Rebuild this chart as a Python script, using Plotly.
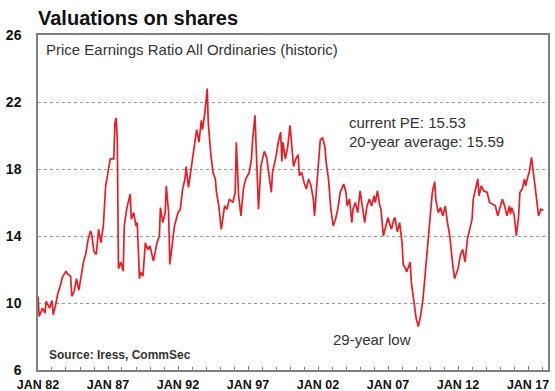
import plotly.graph_objects as go

# Monthly observations of the All Ordinaries historic price-earnings ratio
dates = [
    "1982-01", "1982-02", "1982-05", "1982-07", "1982-08", "1982-11",
    "1983-01", "1983-02", "1983-04", "1983-06", "1983-08", "1983-10",
    "1984-01", "1984-02", "1984-05", "1984-06", "1984-08", "1984-10", "1984-12",
    "1985-02", "1985-04", "1985-06", "1985-08", "1985-10", "1985-11",
    "1986-01", "1986-03", "1986-05", "1986-07", "1986-09", "1986-11",
    "1987-01", "1987-03", "1987-06", "1987-07", "1987-08", "1987-09", "1987-10", "1987-12",
    "1988-02", "1988-03", "1988-05", "1988-08", "1988-09", "1988-11",
    "1989-01", "1989-02", "1989-04", "1989-05", "1989-07", "1989-09", "1989-11",
    "1990-01", "1990-04", "1990-07", "1990-09", "1990-10", "1990-12",
    "1991-02", "1991-03", "1991-05", "1991-06", "1991-08", "1991-10",
    "1992-01", "1992-03", "1992-05", "1992-07", "1992-08", "1992-10",
    "1993-01", "1993-03", "1993-05", "1993-07", "1993-09", "1993-10", "1993-12",
    "1994-02", "1994-03", "1994-05", "1994-07", "1994-09", "1994-10", "1994-12",
    "1995-02", "1995-03", "1995-05", "1995-07", "1995-09", "1995-12",
    "1996-02", "1996-03", "1996-05", "1996-07", "1996-09", "1996-11",
    "1997-02", "1997-04", "1997-05", "1997-07", "1997-08", "1997-10", "1997-12",
    "1998-02", "1998-03", "1998-05", "1998-07", "1998-09", "1998-10",
    "1999-01", "1999-03", "1999-05", "1999-06", "1999-07", "1999-09", "1999-11",
    "2000-01", "2000-02", "2000-04", "2000-06", "2000-08", "2000-09", "2000-11",
    "2001-01", "2001-03", "2001-05", "2001-07", "2001-09", "2001-10",
    "2002-01", "2002-03", "2002-05", "2002-07", "2002-08", "2002-10", "2002-12",
    "2003-02", "2003-04", "2003-06", "2003-08", "2003-11",
    "2004-01", "2004-02", "2004-04", "2004-06", "2004-07", "2004-09", "2004-11",
    "2005-01", "2005-03", "2005-05", "2005-07", "2005-09", "2005-11",
    "2006-01", "2006-02", "2006-04", "2006-06", "2006-07", "2006-09", "2006-11",
    "2007-01", "2007-02", "2007-04", "2007-06", "2007-07", "2007-09", "2007-11",
    "2008-01", "2008-02", "2008-04", "2008-05", "2008-08", "2008-09", "2008-11",
    "2009-01", "2009-03", "2009-05", "2009-07", "2009-09", "2009-11",
    "2010-01", "2010-03", "2010-05", "2010-06", "2010-08", "2010-10", "2010-12",
    "2011-02", "2011-04", "2011-06", "2011-08", "2011-10",
    "2012-01", "2012-03", "2012-05", "2012-07", "2012-09", "2012-11",
    "2013-01", "2013-02", "2013-04", "2013-06", "2013-07", "2013-09", "2013-11",
    "2014-02", "2014-04", "2014-07", "2014-09", "2014-11",
    "2015-01", "2015-03", "2015-05", "2015-07", "2015-09", "2015-10", "2015-11",
    "2016-01", "2016-03", "2016-05", "2016-06", "2016-08", "2016-10", "2016-11",
    "2017-01", "2017-02", "2017-04", "2017-05", "2017-07", "2017-09", "2017-10", "2017-12",
    "2018-02",
]

pe_ratio = [
    10.4, 9.2, 9.7, 9.4, 10.1, 9.7,
    10.15, 9.3, 9.85, 10.55, 11.0, 11.55,
    11.9, 11.75, 11.6, 10.4, 10.7, 11.45, 10.75,
    11.6, 12.45, 12.95, 13.8, 14.3, 14.1,
    13.05, 12.9, 14.4, 13.6, 14.6, 17.0,
    17.8, 18.6, 18.6, 20.75, 21.05, 19.75, 12.05, 12.45,
    11.9, 14.6, 15.6, 16.5, 15.0, 15.4,
    14.6, 14.8, 11.45, 11.85, 11.6, 13.6, 13.2,
    13.4, 12.5, 13.6, 14.0, 15.7, 14.8,
    15.4, 17.0, 15.4, 12.3, 13.6, 14.6,
    15.4, 15.6, 16.8, 17.4, 18.15, 16.9,
    18.4, 19.3, 20.35, 19.6, 20.9, 20.35, 21.35,
    22.8, 20.75, 19.0, 17.8, 17.4, 16.6, 15.8,
    14.4, 14.8, 15.8, 15.6, 16.2, 16.0,
    16.6, 19.6, 16.4, 15.2, 16.8, 17.4,
    17.8, 18.6, 19.75, 21.2, 19.3, 15.6, 18.15,
    18.75, 19.05, 18.7, 17.6, 16.6, 17.8,
    18.75, 19.6, 20.2, 18.45, 19.6, 18.6, 19.3,
    20.6, 19.75, 18.15, 18.6, 18.85, 17.6, 17.8,
    17.2, 16.8, 17.4, 17.0, 16.2, 15.2,
    18.0, 19.75, 19.85, 19.3, 18.4, 17.4, 15.6,
    14.6, 15.0, 15.6, 16.6, 17.1,
    16.6, 15.8, 16.2, 14.8, 15.6, 16.0, 15.4,
    16.7, 15.8, 14.8, 15.8, 16.2, 15.8,
    16.4, 16.0, 16.7, 15.8, 15.6, 14.0, 14.6,
    15.1, 14.8, 14.4, 15.0, 15.1, 14.25, 14.8,
    13.6, 12.3, 12.05, 11.85, 12.45, 11.2, 10.2,
    9.1, 8.6, 9.25, 10.25, 11.85, 13.6,
    15.0, 16.6, 17.25, 16.2, 15.4, 15.7, 15.2,
    15.8, 14.8, 14.0, 12.6, 11.45,
    12.05, 12.85, 13.2, 12.45, 13.8, 14.4,
    15.0, 16.2, 16.8, 17.4, 16.4, 17.0, 16.7,
    16.6, 16.0, 15.9, 15.8, 15.2,
    15.8, 16.2, 15.8, 15.2, 15.8, 15.3, 15.7,
    15.3, 14.0, 15.2, 16.6, 16.8, 17.4, 17.0,
    17.6, 17.8, 18.7, 18.0, 17.0, 15.8, 15.2, 15.6,
    15.53,
]

tick_dates = ["1982-01-01", "1987-01-01", "1992-01-01", "1997-01-01",
              "2002-01-01", "2007-01-01", "2012-01-01", "2017-01-01"]
tick_labels = ["JAN 82", "JAN 87", "JAN 92", "JAN 97",
               "JAN 02", "JAN 07", "JAN 12", "JAN 17"]
y_ticks = [6, 10, 14, 18, 22, 26]

FONT = "Arial, Liberation Sans, sans-serif"
GREY = "#7f7f7f"

fig = go.Figure()
fig.add_trace(go.Scatter(
    x=dates, y=pe_ratio, mode="lines",
    line=dict(color="#ec1c24", width=1.7),
    hoverinfo="skip", showlegend=False,
))

fig.update_layout(
    width=555, height=391,
    margin=dict(l=38, r=7, t=35, b=21),
    paper_bgcolor="white", plot_bgcolor="white",
    font=dict(family=FONT, color="#222"),
)

fig.update_xaxes(
    type="date", range=["1982-01-01", "2018-06-05"], automargin=False,
    tickvals=tick_dates, ticktext=tick_labels,
    tickfont=dict(family=FONT, size=12.5, color="#111", weight="bold"),
    ticks="inside", ticklen=4, tickcolor=GREY, tickwidth=1,
    ticklabelstandoff=2,
    minor=dict(ticks="inside", dtick="M12", tick0="1982-01-01",
               ticklen=3, tickcolor=GREY, showgrid=False),
    showgrid=False, zeroline=False,
    showline=True, mirror=True, linecolor=GREY, linewidth=1.5,
)

fig.update_yaxes(
    range=[6, 26], tickvals=y_ticks, automargin=False,
    tickfont=dict(family=FONT, size=14, color="#111", weight="bold"),
    ticks="", ticklabelstandoff=12,
    showgrid=True, gridcolor="#9a9a9a", griddash="dot", gridwidth=1,
    zeroline=False,
    showline=True, mirror=True, linecolor=GREY, linewidth=1.5,
)

def note(text, x, y, size=13, bold=False, color="#333"):
    fig.add_annotation(
        text=text, xref="paper", yref="paper", x=x, y=y,
        xanchor="left", yanchor="middle", showarrow=False,
        font=dict(family=FONT, size=size, color=color,
                  weight="bold" if bold else "normal"),
    )

note("Valuations on shares", -0.004, 1.052, size=20, bold=True, color="#111")
note("Price Earnings Ratio All Ordinaries (historic)", 0.011, 0.956, size=15)
note("current PE: 15.53", 0.606, 0.740, size=15)
note("20-year average: 15.59", 0.606, 0.682, size=15)
note("29-year low", 0.574, 0.090, size=15)
note("Source: Iress, CommSec", 0.017, 0.045, size=12, bold=True)

fig.write_html("out.html")
